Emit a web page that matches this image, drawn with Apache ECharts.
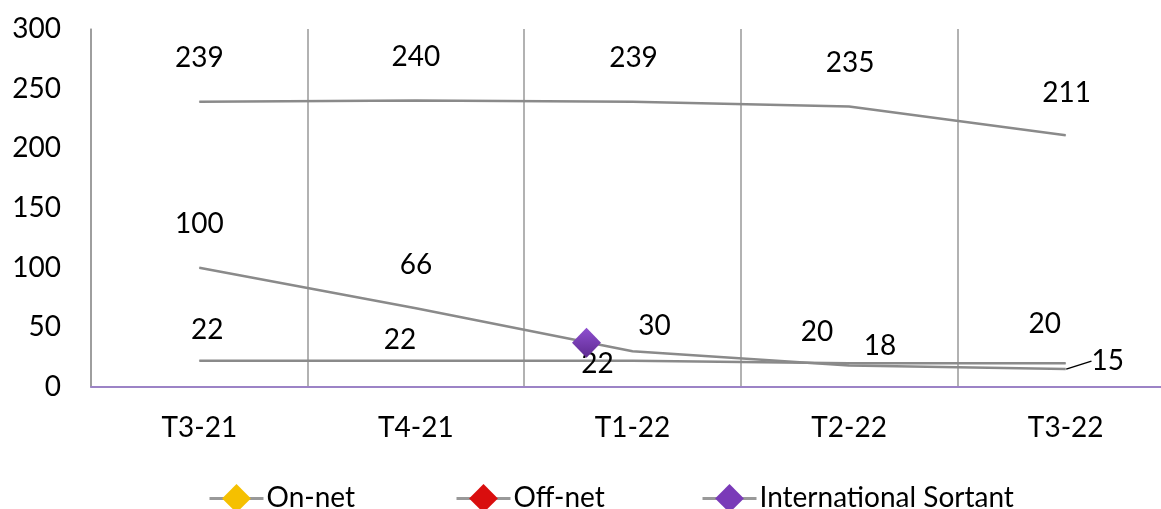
<!DOCTYPE html>
<html>
<head>
<meta charset="utf-8">
<script src="https://cdn.jsdelivr.net/npm/echarts@6/dist/echarts.min.js"></script>
<style>html,body{margin:0;padding:0;background:#fff}#c{width:1161px;height:509px}</style>
</head>
<body>
<div id="c"></div>
<script>
const categories = ['T3-21', 'T4-21', 'T1-22', 'T2-22', 'T3-22'];
const onNet = [239, 240, 239, 235, 211];
const offNet = [100, 66, 30, 18, 15];
const international = [22, 22, 22, 20, 20];
const yTicks = [0, 50, 100, 150, 200, 250, 300];
const seriesNames = ['On-net', 'Off-net', 'International Sortant'];
const strayMarker = { category: 'T1-22', value: 37 };

const onNetOffsets = [[0,-44],[0,-44],[1,-44],[1,-44],[1,-42]];
const offNetOffsets = [[0,-44],[0,-43],[22,-25],[31,-20],[42,-8]];
const intlOffsets = [[8,-31],[-16,-21],[-35,3],[-32,-31],[-21,-39]];

const FONT = 'Lato';
const LINE = '#8a8a8a';
const iconColors = ['#F5C000', '#D90E0E', '#7A3AB8'];

function baseSeries(name, vals, offs) {
  return {
    name, type: 'line', data: vals.slice(),
    symbol: 'diamond', symbolSize: 1, showSymbol: true,
    lineStyle: { color: LINE, width: 2.5 },
    itemStyle: { color: LINE },
    label: { show: true, position: 'inside', fontFamily: FONT, fontSize: 28, lineHeight: 28, color: '#000' },
    labelLayout: function (p) { const o = offs[p.dataIndex]; return { dx: o[0], dy: o[1] }; },
    emphasis: { disabled: true },
    animation: false, z: 3
  };
}
const s1 = baseSeries(seriesNames[0], onNet, onNetOffsets);
const s2 = baseSeries(seriesNames[1], offNet, offNetOffsets);
s2.data[4] = { value: offNet[4], labelLine: { show: true, lineStyle: { color: '#000', width: 1.5 } } };
const s3 = baseSeries(seriesNames[2], international, intlOffsets);
s3.markPoint = {
  symbol: 'diamond', symbolSize: [29, 30], symbolOffset: [-46, 0],
  itemStyle: { color: new echarts.graphic.LinearGradient(0, 0, 0, 1, [{offset:0,color:'#8E4FD0'},{offset:1,color:'#5E2A90'}]) },
  label: { show: false },
  data: [{ coord: [strayMarker.category, strayMarker.value] }],
  animation: false
};

function legendFor(i, left) {
  return {
    left, top: 479, itemWidth: 54, itemHeight: 36, itemGap: 0,
    textStyle: { fontFamily: FONT, fontSize: 28, color: '#000', padding: [0,0,0,-2] },
    data: [{ name: seriesNames[i], itemStyle: { color: iconColors[i], borderWidth: 0 }, lineStyle: { color: '#999', width: 3 } }],
    selectedMode: false
  };
}

const chart = echarts.init(document.getElementById('c'));
chart.setOption({
  animation: false,
  grid: { left: 91, width: 1083, top: 29, bottom: 122, containLabel: false, outerBoundsMode: 'none' },
  legend: [legendFor(0, 203), legendFor(1, 450), legendFor(2, 696)],
  xAxis: {
    type: 'category', data: categories, boundaryGap: true,
    axisLine: { show: true, lineStyle: { color: '#9C83C6', width: 2 } },
    axisTick: { show: false },
    axisLabel: { fontFamily: FONT, fontSize: 28, lineHeight: 28, color: '#000', margin: 27 },
    splitLine: { show: true, lineStyle: { color: '#999', width: 1.5 } }
  },
  yAxis: {
    type: 'value', min: yTicks[0], max: yTicks[yTicks.length - 1], interval: 50,
    axisLine: { show: true, lineStyle: { color: '#999', width: 1.5 } },
    axisTick: { show: false },
    splitLine: { show: false },
    axisLabel: { fontFamily: FONT, fontSize: 28, color: '#000', margin: 30,
      formatter: v => yTicks.includes(v) ? String(v) : '' }
  },
  series: [s1, s2, s3]
});
</script>
</body>
</html>
